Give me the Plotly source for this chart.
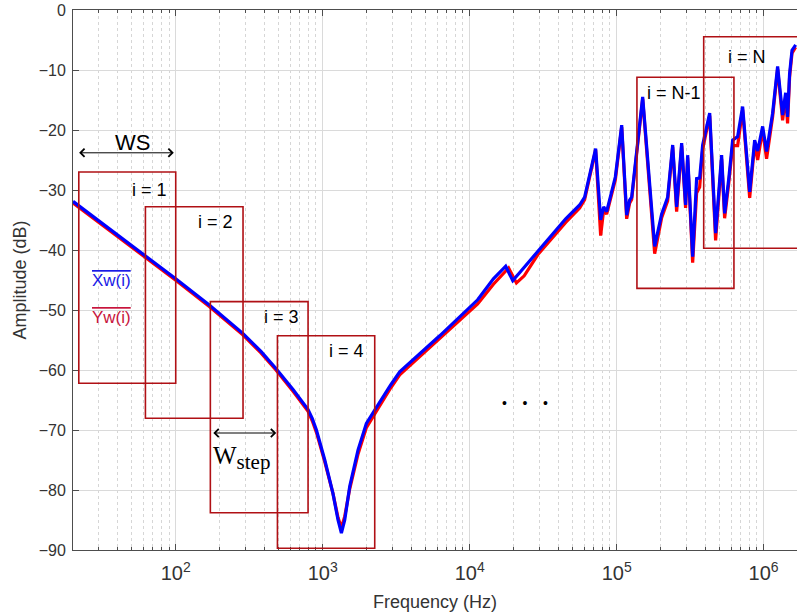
import numpy as np
import plotly.graph_objects as go

# Averaged spectra of the two windows (frequency in Hz, amplitude in dB)
freq_x = [20, 62.5, 100, 170, 286, 380, 479, 630, 700, 795, 850, 906, 1033, 1175, 1271, 1340, 1412, 1527,
          1740, 1982, 2259, 2572, 2900, 3340, 6250, 11330, 14500, 17580, 19630, 22000, 29040,
          45000, 56000, 60550, 71940, 77830, 81590, 85490, 98000, 108200, 117000, 122500,
          126500, 150300, 181400, 202400, 222300, 240500, 255900, 276800, 294500, 304100,
          328900, 349900, 367100, 384700, 429500, 471300, 517700, 542800, 578000, 615500,
          665600, 719600, 803700, 868900, 910600, 984500, 1047000, 1151000, 1245000,
          1346000, 1412000, 1455000, 1502000, 1560000, 1652000]
amp_x = [-31.9, -41.0, -44.8, -49.2, -53.9, -56.9, -59.7, -63.3, -64.7, -66.6, -68.1, -70.0, -75.0, -80.6,
         -85.0, -87.2, -85.0, -79.4, -73.3, -68.9, -66.7, -64.4, -62.5, -60.3, -54.3, -48.3, -44.8,
         -42.7, -45.1, -43.7, -40.2, -34.8, -32.5, -31.2, -23.1, -35.0, -32.8, -33.6, -27.8, -19.2,
         -34.2, -31.7, -31.2, -14.5, -39.4, -34.0, -31.2, -22.5, -32.8, -22.2, -32.5, -24.2, -41.1,
         -28.1, -28.0, -22.5, -17.2, -37.2, -24.2, -33.9, -28.3, -21.7, -21.1, -16.1, -30.3,
         -21.7, -23.5, -19.4, -23.6, -17.2, -9.4, -17.5, -13.8, -17.8, -10.6, -6.7, -5.8]

freq_y = [20, 62.5, 100, 170, 286, 380, 479, 630, 700, 795, 850, 906, 1033, 1175, 1271, 1340, 1412, 1527,
          1740, 1982, 2259, 2572, 2900, 3340, 6250, 11330, 14500, 18400, 20800, 23500, 29040,
          45000, 56000, 60550, 71940, 77830, 81590, 85490, 98000, 108200, 117000, 122500,
          126500, 150300, 181400, 202400, 222300, 240500, 255900, 276800, 294500, 304100,
          328900, 349900, 367100, 384700, 429500, 471300, 517700, 542800, 578000, 615500,
          665600, 719600, 803700, 868900, 910600, 984500, 1047000, 1151000, 1245000,
          1346000, 1412000, 1455000, 1502000, 1560000, 1652000]
amp_y = [-32.15, -41.25, -45.05, -49.45, -54.15, -57.15, -59.95, -63.6, -65.0, -66.9, -68.5, -70.4, -75.3,
         -80.6, -84.6, -86.3, -84.4, -79.8, -74.0, -69.6, -67.3, -65.0, -63.0, -60.8, -54.8, -49.0,
         -45.7, -43.0, -45.5, -44.3, -40.8, -35.4, -33.0, -31.6, -23.3, -37.6, -33.3, -34.0, -28.3,
         -19.5, -34.8, -32.2, -31.6, -14.8, -40.6, -34.6, -31.8, -22.8, -33.6, -22.6, -33.0, -24.6,
         -42.1, -30.5, -29.5, -23.2, -17.6, -38.4, -24.8, -34.7, -29.0, -22.6, -22.6, -16.6, -31.3,
         -22.3, -25.0, -20.0, -24.8, -17.8, -9.8, -18.4, -14.4, -18.9, -11.2, -7.2, -6.2]

# Sliding windows: label, f_start, f_end, top dB, bottom dB
win_labels = ["i = 1", "i = 2", "i = 3", "i = 4", "i = N-1", "i = N"]
win_f0 = [21.9, 62.2, 172, 492, 137400, 391000]
win_f1 = [100, 287, 795, 2259, 628000, 3000000]
win_top = [-27.0, -32.8, -48.6, -54.3, -11.2, -4.45]
win_bot = [-62.2, -68.05, -83.8, -89.7, -46.4, -39.7]
# label anchor (Hz, dB)
lab_f = [66.8, 185, 528, 1462, 245000, 774000]
lab_db = [-30.0, -35.3, -51.1, -56.9, -13.9, -7.8]

WIN_COLOR = "#B01015"
FONT = "Liberation Sans, Arial, sans-serif"
TXT = "#333333"

fig = go.Figure()
fig.add_trace(go.Scatter(x=freq_y, y=amp_y, mode="lines",
                         line=dict(color="#FF0000", width=3.2), name="Yw"))
fig.add_trace(go.Scatter(x=freq_x, y=amp_x, mode="lines",
                         line=dict(color="#0000FF", width=3.2), name="Xw"))

for lab, f0, f1, t, b, lf, ld in zip(win_labels, win_f0, win_f1, win_top, win_bot, lab_f, lab_db):
    fig.add_shape(type="rect", xref="x", yref="y", x0=f0, x1=f1, y0=b, y1=t,
                  line=dict(color=WIN_COLOR, width=1.6), fillcolor="rgba(0,0,0,0)")
    fig.add_annotation(x=np.log10(lf), y=ld, xref="x", yref="y", text=lab,
                       showarrow=False, font=dict(family=FONT, size=18, color="black"))

# Window size and step arrows
fig.add_annotation(x=np.log10(97), y=-23.8, ax=np.log10(21.5), ay=-23.8,
                   xref="x", yref="y", axref="x", ayref="y", text="",
                   showarrow=True, arrowside="end+start", arrowhead=4, startarrowhead=4,
                   arrowsize=1.6, startarrowsize=1.6, arrowwidth=1, arrowcolor="black",
                   standoff=0, startstandoff=0)
fig.add_annotation(x=np.log10(50.4), y=-22.0, xref="x", yref="y", text="WS",
                   showarrow=False, font=dict(family=FONT, size=22, color="black"))

fig.add_annotation(x=np.log10(483), y=-70.5, ax=np.log10(176), ay=-70.5,
                   xref="x", yref="y", axref="x", ayref="y", text="",
                   showarrow=True, arrowside="end+start", arrowhead=4, startarrowhead=4,
                   arrowsize=1.6, startarrowsize=1.6, arrowwidth=1, arrowcolor="black",
                   standoff=0, startstandoff=0)
fig.add_annotation(x=np.log10(282), y=-74.6, xref="x", yref="y",
                   text='W<sub><span style="font-size:21px">step</span></sub>', showarrow=False,
                   font=dict(family="Liberation Serif, DejaVu Serif, serif", size=25, color="black"))

# Series labels
fig.add_annotation(x=np.log10(36.8), y=-45.0, xref="x", yref="y",
                   text='<span style="text-decoration:overline">Xw(i)</span>',
                   showarrow=False, font=dict(family=FONT, size=17, color="#1A1AE6"))
fig.add_annotation(x=np.log10(36.8), y=-51.2, xref="x", yref="y",
                   text='<span style="text-decoration:overline">Yw(i)</span>',
                   showarrow=False, font=dict(family=FONT, size=17, color="#C8143C"))

# Continuation dots
fig.add_annotation(x=np.log10(23800), y=-65.5, xref="x", yref="y",
                   text="•    •    •", showarrow=False,
                   font=dict(family=FONT, size=14, color="black"))

axis_col = "#4D4D4D"
fig.update_xaxes(type="log", range=[np.log10(20), 6.227], dtick=1,
                 exponentformat="power", showexponent="all",
                 ticks="inside", ticklen=6, tickcolor=axis_col, ticklabelstandoff=6,
                 showline=True, linecolor=axis_col, linewidth=1, mirror="ticks",
                 showgrid=True, gridcolor="#DADADA", gridwidth=1,
                 minor=dict(dtick="D1", ticks="inside", ticklen=3, tickcolor=axis_col,
                            showgrid=True, gridcolor="#D6D6D6", griddash="dot"),
                 tickfont=dict(family=FONT, size=16, color=TXT),
                 title=dict(text="Frequency (Hz)", font=dict(family=FONT, size=18, color=TXT),
                            standoff=12),
                 zeroline=False)
fig.update_yaxes(range=[-90, 0], dtick=10, ticks="inside", ticklen=6, tickcolor=axis_col,
                 ticklabelstandoff=3,
                 showline=True, linecolor=axis_col, linewidth=1,
                 showgrid=True, gridcolor="#DADADA", gridwidth=1,
                 tickfont=dict(family=FONT, size=16, color=TXT),
                 title=dict(text="Amplitude (dB)", font=dict(family=FONT, size=18, color=TXT),
                            standoff=7),
                 zeroline=False)

fig.update_layout(width=797, height=616, margin=dict(l=73, r=0, t=10, b=66),
                  plot_bgcolor="white", paper_bgcolor="white", showlegend=False)

fig.write_html("out.html")
